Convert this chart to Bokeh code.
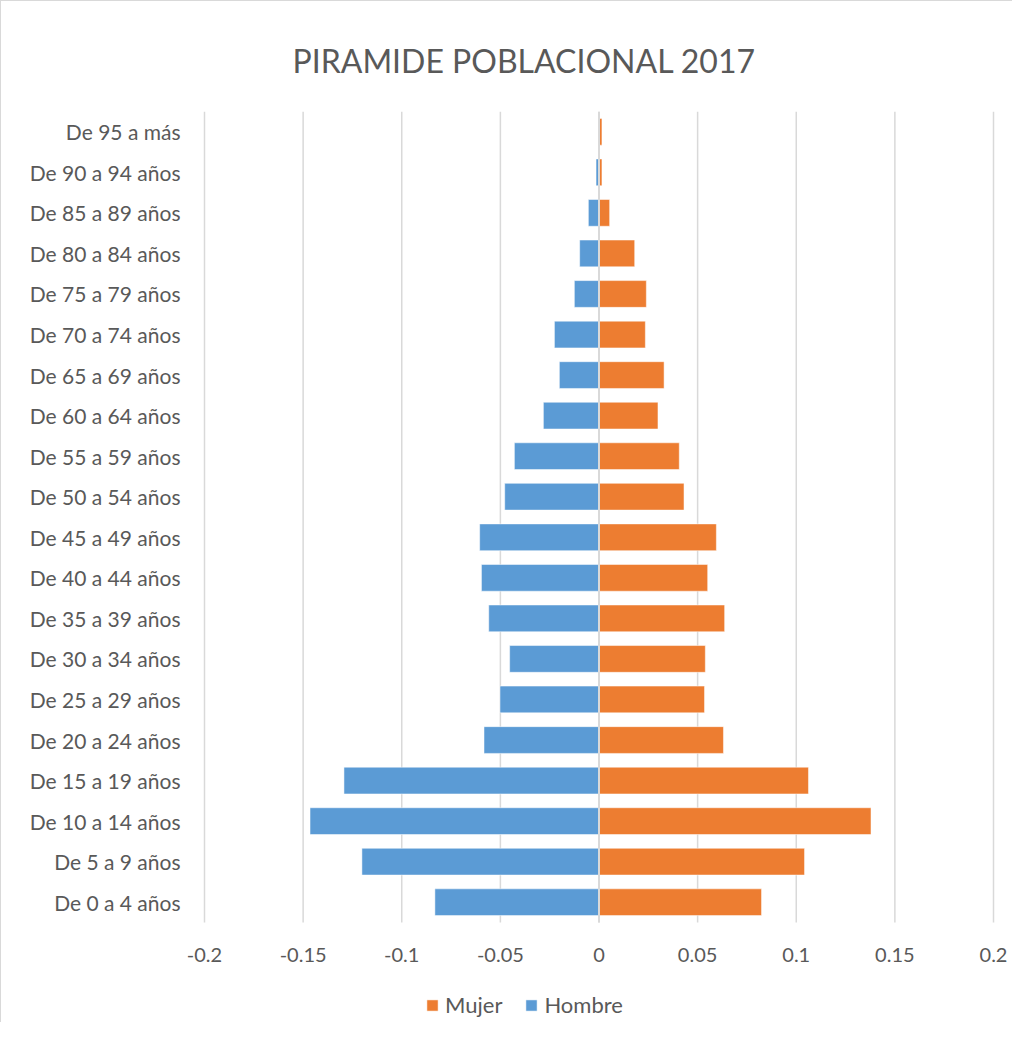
from bokeh.plotting import figure
from bokeh.models import Range1d, Legend, LegendItem, FixedTicker, ColumnDataSource
from bokeh.core.properties import value
from bokeh.embed import file_html
from bokeh.resources import INLINE

categories = ["De 0 a 4 años", "De 5 a 9 años", "De 10 a 14 años", "De 15 a 19 años",
              "De 20 a 24 años", "De 25 a 29 años", "De 30 a 34 años", "De 35 a 39 años",
              "De 40 a 44 años", "De 45 a 49 años", "De 50 a 54 años", "De 55 a 59 años",
              "De 60 a 64 años", "De 65 a 69 años", "De 70 a 74 años", "De 75 a 79 años",
              "De 80 a 84 años", "De 85 a 89 años", "De 90 a 94 años", "De 95 a más"]
hombre = [-0.0832, -0.1202, -0.1465, -0.1293, -0.0583, -0.0502, -0.0453, -0.0559,
          -0.0596, -0.0605, -0.0478, -0.0429, -0.0282, -0.0201, -0.0226, -0.0125,
          -0.0098, -0.0054, -0.0015, 0.0]
mujer = [0.0824, 0.1042, 0.1379, 0.1062, 0.0631, 0.0535, 0.0539, 0.0637,
         0.0551, 0.0595, 0.0431, 0.0407, 0.0299, 0.0330, 0.0235, 0.0240,
         0.0181, 0.0054, 0.0015, 0.0015]
x_ticks = [-0.2, -0.15, -0.1, -0.05, 0, 0.05, 0.1, 0.15, 0.2]
x_tick_labels = ["-0.2", "-0.15", "-0.1", "-0.05", "0", "0.05", "0.1", "0.15", "0.2"]
title_text = "PIRAMIDE POBLACIONAL 2017"

FONT = "Lato"
TXT = "#595959"
BLUE = "#5B9BD5"
ORANGE = "#ED7D31"
GRID = "#D9D9D9"

n = len(categories)
idx = list(range(n))
y_lo, y_hi = -0.5, n - 0.5
x_lo, x_hi = x_ticks[0], x_ticks[-1]

W, H = 1012, 1022
LEFT, RIGHT, TOP, BOTTOM = 185, 0, 110, 1
# pixel positions of the value axis ends and of the category area bottom
AX_L, AX_R, DATA_BOTTOM = 203, 992, 921
ppu = (AX_R - AX_L) / (x_hi - x_lo)
x_start = x_lo - (AX_L - LEFT) / ppu
x_end = x_hi + ((W - RIGHT) - AX_R) / ppu
data_px = DATA_BOTTOM - TOP
frame_px = H - TOP - BOTTOM
y_start = y_hi - (y_hi - y_lo) * frame_px / data_px

src = ColumnDataSource(dict(y=idx, h=hombre, m=mujer, z=[0] * n))

p = figure(width=W, height=H, output_backend="svg", toolbar_location=None,
           y_range=Range1d(y_start, y_hi), x_range=Range1d(x_start, x_end),
           min_border_left=LEFT, min_border_right=RIGHT, min_border_top=TOP,
           min_border_bottom=BOTTOM, title=title_text)

p.title.align = "left"
p.title.text_font = FONT
p.title.text_font_size = "32px"
p.title.text_font_style = "normal"
p.title.text_color = TXT
p.title.offset = 106
p.title.standoff = 64

# vertical gridlines over the category area only
p.segment(x0=x_ticks, y0=[y_lo] * len(x_ticks), x1=x_ticks, y1=[y_hi] * len(x_ticks),
          line_color=GRID, line_width=1.5)

rm = p.hbar(y="y", left="z", right="m", height=0.66, source=src, fill_color=ORANGE,
            line_color="white", line_width=0.5)
rh = p.hbar(y="y", left="h", right="z", height=0.66, source=src, fill_color=BLUE,
            line_color="white", line_width=0.5)

# vertical category axis line at 0 (drawn over the bars)
p.segment(x0=[0], y0=[y_lo], x1=[0], y1=[y_hi], line_color=GRID, line_width=2)

# x tick labels
p.text(x=x_ticks, y=[y_lo] * len(x_ticks), text=x_tick_labels, text_align="center",
       text_baseline="middle", y_offset=32, text_font=value(FONT),
       text_font_size="20px", text_color=TXT)

p.xaxis.visible = False
p.yaxis.ticker = FixedTicker(ticks=idx)
p.yaxis.major_label_overrides = {i: c for i, c in zip(idx, categories)}
p.yaxis.axis_line_color = None
p.yaxis.major_tick_line_color = None
p.yaxis.minor_tick_line_color = None
p.yaxis.major_label_text_font = FONT
p.yaxis.major_label_text_color = TXT
p.yaxis.major_label_text_font_size = "21px"
p.yaxis.major_label_standoff = 0

p.xgrid.grid_line_color = None
p.ygrid.grid_line_color = None
p.outline_line_color = None

legend = Legend(items=[LegendItem(label="Mujer", renderers=[rm]),
                       LegendItem(label="Hombre", renderers=[rh])],
                orientation="horizontal", location=(AX_L - LEFT + 221, 4),
                label_text_font=FONT, label_text_font_size="22px", label_text_color=TXT,
                glyph_width=14, glyph_height=14, spacing=22, label_standoff=6,
                border_line_color=None, background_fill_alpha=0, padding=4, margin=0)
p.add_layout(legend, "center")
p.styles = {"border-left": "1.5px solid #D9D9D9", "border-top": "1.5px solid #D9D9D9"}

open("out.html", "w").write(file_html(p, INLINE))
